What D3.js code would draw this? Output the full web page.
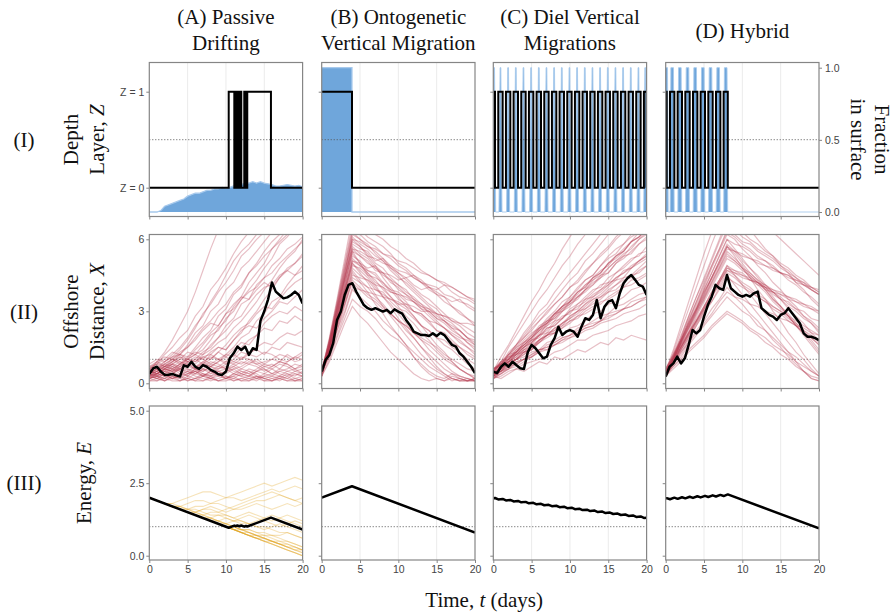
<!DOCTYPE html>
<html>
<head>
<meta charset="utf-8">
<script src="https://cdn.jsdelivr.net/npm/d3@7"></script>
<style>
  body { margin: 0; background: #fff; }
  svg { display: block; }
</style>
</head>
<body>
<svg id="fig" width="895" height="616"></svg>
<script>
// ---------- data ----------
const strategies = ["(A) Passive|Drifting", "(B) Ontogenetic|Vertical Migration", "(C) Diel Vertical|Migrations", "(D) Hybrid"];
const rowLabels = ["(I)", "(II)", "(III)"];
const timeTicks = [0, 5, 10, 15, 20];
const zTicks = [0, 1];
const fracTicks = [0, 0.5, 1];
const xTicks = [0, 3, 6];
const eTicks = [0, 2.5, 5];

const dayGrid = [0,1,2,3,4,5,6,7,8,9,10,11,12,13,14,15,16,17,18,19,20];
const halfDayGrid = [0,0.5,1,1.5,2,2.5,3,3.5,4,4.5,5,5.5,6,6.5,7,7.5,8,8.5,9,9.5,10,10.5,11,11.5,12,12.5,13,13.5,14,14.5,15,15.5,16,16.5,17,17.5,18,18.5,19,19.5,20];

// Row I: depth layer of the focal larva (step series) and fraction of larvae in the surface layer
const zTimesA = [0, 10.36, 11.09, 11.27, 11.48, 11.74, 12.0, 12.39, 12.61, 12.78, 15.87, 20];
const zValsA  = [0, 1, 0, 1, 0, 1, 0, 1, 0, 1, 0, 0];
const zTimesB = [0, 3.95, 20];
const zValsB  = [1, 0, 0];
// diel migration: times of each descent to depth and each ascent to the surface
const dvmDownC = [0.22,1.22,2.22,3.22,4.22,5.22,6.22,7.22,8.22,9.22,10.22,11.22,12.22,13.22,14.22,15.22,16.22,17.22,18.22,19.22];
const dvmUpC   = [0.65,1.65,2.65,3.65,4.65,5.65,6.65,7.65,8.65,9.65,10.65,11.65,12.65,13.65,14.65,15.65,16.65,17.65,18.65,19.65];
const dvmDownD = [0.13,1.13,2.13,3.13,4.13,5.13,6.13,7.13,8.1];
const dvmUpD   = [0.56,1.56,2.56,3.56,4.56,5.56,6.56,7.56];

const fracA = [0,0,0,0.01,0.04,0.05,0.06,0.07,0.08,0.09,0.11,0.12,0.13,0.13,0.14,0.15,0.15,0.16,0.16,0.17,0.165,
               0.17,0.18,0.175,0.19,0.2,0.2,0.21,0.2,0.21,0.2,0.195,0.19,0.18,0.18,0.185,0.19,0.185,0.18,0.185,0.175];
const fracTimesB = [0, 3.95, 20];
const fracB = [1, 0, 0];

// Row II: offshore distance of the focal larva (black) and of the ensemble (faint)
const xFocal = [
  [0.39,0.62,0.69,0.49,0.35,0.36,0.39,0.33,0.28,0.75,0.69,0.9,0.69,0.6,0.76,0.69,0.56,0.49,0.38,0.35,0.49,1.04,1.25,1.53,1.39,1.53,1.18,1.46,1.39,2.6,3.0,3.5,4.2,3.82,3.68,3.54,3.58,3.68,3.82,3.68,3.33],
  [0.49,0.97,1.18,1.67,2.64,2.99,3.68,4.1,4.17,3.82,3.54,3.26,3.13,3.06,3.13,3.06,2.99,3.06,2.92,3.08,2.99,2.9,2.64,2.43,2.15,2.08,2.01,2.01,1.97,2.08,1.97,2.1,2.01,1.8,1.6,1.53,1.25,1.11,0.9,0.69,0.42],
  [0.49,0.42,0.69,0.83,0.69,0.9,0.76,0.63,0.6,1.3,1.6,1.46,1.25,1.04,1.11,1.6,1.88,2.36,2.01,2.15,2.22,2.15,1.94,2.36,2.71,2.64,2.85,3.47,2.71,3.19,3.4,3.47,3.13,3.75,4.17,4.38,4.51,4.31,4.1,4.03,3.68],
  [0.28,0.69,0.83,1.11,0.83,1.04,1.6,2.22,2.08,2.22,2.78,3.26,3.61,4.1,3.96,3.89,4.51,3.96,3.82,3.68,3.61,3.68,3.61,3.75,3.82,3.13,2.99,2.85,2.78,2.64,2.85,2.92,3.13,2.92,2.71,2.5,2.08,1.94,1.94,1.88,1.8]
];

const ensembleA = [
  [0.5,0.9,1.3,1.8,2.4,3.0,3.8,4.7,5.6,6.4,7.0,7.4,7.8,8.1,8.3,8.6,8.8,9.0,9.2,9.4,9.6],
  [0.6,0.8,1.2,1.5,1.9,2.2,2.8,3.2,3.9,4.3,4.8,5.4,5.9,6.3,6.8,7.0,7.2,7.4,7.6,7.8,8.0],
  [0.3,0.5,0.8,1.0,1.3,1.5,1.9,2.3,2.6,3.0,3.3,3.8,4.1,4.6,4.9,5.3,5.6,5.9,6.2,6.4,6.6],
  [0.5,0.4,0.7,0.9,1.1,1.0,1.4,1.7,2.1,2.4,2.9,3.1,3.5,3.8,4.0,4.4,4.6,5.0,5.3,5.6,5.9],
  [0.2,0.4,0.3,0.6,0.8,0.7,1.0,1.3,1.5,1.9,2.2,2.6,2.8,3.3,3.7,4.0,4.1,4.5,4.7,5.0,5.3],
  [0.4,0.3,0.5,0.4,0.7,0.9,0.8,1.1,1.0,1.3,1.6,2.0,2.3,2.5,2.9,3.2,3.1,3.5,3.9,4.2,4.4],
  [0.6,0.5,0.7,0.8,0.6,0.9,1.0,0.8,1.2,1.5,1.4,1.8,2.2,2.4,2.3,2.7,3.0,3.4,3.3,3.6,3.9],
  [0.3,0.2,0.4,0.6,0.5,0.3,0.6,0.9,0.7,0.9,1.2,1.1,1.5,1.8,2.0,2.5,2.8,3.0,2.9,3.2,3.0],
  [0.5,0.7,0.6,0.9,1.1,0.9,0.7,0.8,1.0,1.3,1.1,1.4,1.7,1.6,2.0,2.3,2.2,2.6,2.5,2.8,2.6],
  [0.2,0.3,0.1,0.3,0.2,0.4,0.6,0.5,0.7,0.6,0.8,1.0,1.3,1.2,1.5,1.7,1.6,1.9,2.1,2.0,2.2],
  [0.4,0.6,0.8,0.7,0.5,0.6,0.4,0.6,0.8,1.0,0.9,1.2,1.0,1.3,1.4,1.2,1.5,1.4,1.7,1.6,1.5],
  [0.3,0.2,0.4,0.3,0.1,0.2,0.4,0.3,0.5,0.3,0.2,0.4,0.3,0.5,0.4,0.2,0.3,0.5,0.4,0.2,0.3],
  [0.5,0.6,0.4,0.7,0.9,0.8,0.6,0.5,0.7,0.9,1.1,0.9,0.8,1.0,0.9,0.7,0.8,0.6,0.9,1.1,1.0],
  [0.2,0.1,0.3,0.2,0.4,0.5,0.3,0.2,0.1,0.2,0.3,0.1,0.2,0.1,0.3,0.2,0.1,0.2,0.1,0.2,0.1],
  [0.6,0.9,1.1,1.0,0.8,1.0,1.2,1.0,0.8,0.7,0.9,0.8,0.6,0.8,0.7,0.5,0.7,0.9,0.8,0.6,0.7],
  [0.4,0.3,0.2,0.4,0.3,0.5,0.7,0.6,0.4,0.5,0.3,0.2,0.4,0.6,0.5,0.7,0.6,0.4,0.3,0.5,0.4],
  [0.1,0.2,0.1,0.3,0.2,0.1,0.2,0.1,0.3,0.4,0.2,0.3,0.1,0.2,0.1,0.3,0.2,0.1,0.3,0.1,0.2],
  [0.5,0.4,0.6,0.5,0.3,0.4,0.5,0.7,0.9,0.8,0.6,0.7,0.5,0.4,0.6,0.8,1.0,0.9,1.2,1.0,1.2],
  [0.3,0.5,0.4,0.2,0.3,0.2,0.1,0.3,0.2,0.4,0.5,0.6,0.4,0.3,0.2,0.4,0.3,0.2,0.4,0.3,0.5],
  [0.6,0.4,0.5,0.7,0.6,0.8,0.6,0.4,0.3,0.5,0.4,0.6,0.7,0.9,0.8,0.6,0.4,0.5,0.6,0.8,0.7],
  [0.2,0.4,0.6,0.5,0.7,0.6,0.5,0.3,0.5,0.4,0.2,0.1,0.2,0.3,0.5,0.4,0.6,0.8,0.7,0.5,0.6],
  [0.4,0.2,0.1,0.2,0.1,0.3,0.2,0.4,0.3,0.1,0.2,0.4,0.6,0.5,0.3,0.2,0.1,0.3,0.2,0.1,0.2],
  [0.7,0.9,0.7,0.6,0.8,1.1,1.3,1.2,1.4,1.7,1.9,2.3,2.6,3.0,3.4,3.9,4.3,4.8,5.2,5.5,6.0],
  [0.5,0.7,0.9,1.2,1.5,1.9,2.4,2.8,3.4,3.9,4.5,5.1,5.5,5.8,6.2,6.5,6.8,7.0,7.2,7.4,7.6],
  [0.3,0.4,0.6,0.8,0.7,1.0,1.2,1.4,1.8,2.3,2.6,3.2,3.6,4.2,4.6,5.0,5.6,6.0,6.4,6.8,7.1],
  [0.4,0.6,0.5,0.8,1.0,1.3,1.2,1.6,2.0,2.2,2.7,3.0,3.5,3.9,4.3,4.8,5.2,5.8,6.1,6.5,6.8],
  [0.4,0.5,0.7,0.9,1.2,1.6,2.1,2.4,3.0,3.3,3.9,4.2,4.8,5.1,5.5,5.9,6.3,6.6,6.9,7.1,7.4],
  [0.6,0.8,0.7,1.0,1.2,1.1,1.5,1.9,2.2,2.8,3.1,3.7,4.0,4.6,5.0,5.5,5.9,6.2,6.5,6.7,6.9],
  [0.3,0.4,0.6,0.5,0.8,1.0,0.9,1.2,1.6,1.9,2.4,2.7,3.3,3.5,4.1,4.4,4.9,5.2,5.6,5.8,6.1],
  [0.5,0.4,0.6,0.8,1.0,0.9,1.1,1.0,1.3,1.5,1.4,1.8,2.1,2.6,3.0,3.5,3.9,4.4,4.8,5.0,5.4],
  [0.2,0.3,0.5,0.4,0.6,0.8,0.7,0.9,1.1,1.0,1.2,1.5,1.9,2.1,2.6,2.9,3.4,3.6,4.1,4.5,4.7],
  [0.7,0.8,1.0,1.3,1.2,1.5,1.8,2.2,2.5,2.4,2.9,3.3,3.6,3.5,3.9,4.2,4.0,4.4,4.7,4.5,4.9],
  [0.4,0.6,0.9,1.1,1.4,1.8,2.3,2.9,3.3,3.8,4.2,4.7,5.3,5.6,6.0,6.3,6.7,7.0,7.3,7.5,7.8],
  [0.8,1.0,0.9,1.1,1.2,1.0,0.9,1.1,1.2,1.0,0.8,0.9,1.1,1.0,0.8,0.9,1.0,1.2,1.1,0.9,1.0],
  [0.1,0.1,0.2,0.1,0.1,0.2,0.1,0.1,0.2,0.1,0.1,0.2,0.1,0.1,0.2,0.1,0.1,0.2,0.1,0.1,0.1],
  [0.3,0.4,0.3,0.5,0.6,0.4,0.5,0.3,0.4,0.6,0.7,0.5,0.4,0.3,0.5,0.6,0.4,0.3,0.5,0.6,0.4],
  [0.5,0.3,0.4,0.2,0.3,0.1,0.2,0.3,0.2,0.1,0.2,0.3,0.5,0.4,0.2,0.3,0.4,0.6,0.5,0.4,0.3],
  [0.7,0.6,0.8,1.0,0.9,0.7,0.6,0.8,0.7,0.5,0.6,0.8,1.0,1.2,1.1,1.3,1.2,1.0,0.9,1.1,1.3],
  [0.2,0.3,0.2,0.4,0.6,0.5,0.4,0.6,0.5,0.7,0.6,0.4,0.3,0.2,0.3,0.1,0.2,0.3,0.2,0.4,0.3],
  [0.4,0.5,0.7,0.6,0.4,0.3,0.5,0.4,0.2,0.3,0.5,0.7,0.9,0.8,1.0,0.8,0.7,0.9,0.8,0.6,0.8]
];
const ensembleB = [
  [0.5,1.4,2.6,3.9,5.1,5.0,4.8,4.9,4.6,4.5,4.3,4.4,4.1,3.9,4.0,3.7,3.6,3.4,3.5,3.2,3.0],
  [0.4,1.6,3.0,4.3,5.8,5.6,5.5,5.1,5.2,4.9,4.6,4.4,4.5,4.2,4.0,3.9,4.1,3.8,3.6,3.5,3.3],
  [0.6,1.2,2.2,3.2,4.3,4.0,3.7,3.5,3.2,2.9,2.6,2.4,2.1,1.8,1.6,1.3,1.0,0.8,0.6,0.4,0.3],
  [0.3,1.5,2.8,4.2,5.4,5.0,4.6,4.3,3.9,3.6,3.2,2.8,2.5,2.1,1.8,1.4,1.1,0.9,0.6,0.4,0.2],
  [0.5,1.7,3.2,4.6,6.2,6.0,5.7,5.5,5.2,4.8,4.6,4.3,4.0,3.7,3.5,3.2,2.9,2.6,2.4,2.1,1.9],
  [0.4,1.3,2.4,3.6,4.8,4.5,4.3,3.9,3.8,3.4,3.1,3.0,2.7,2.4,2.2,1.9,1.8,1.5,1.3,1.0,0.8],
  [0.6,1.5,2.6,3.5,4.6,4.2,3.8,3.3,2.9,2.4,2.0,1.6,1.1,0.7,0.4,0.2,0.1,0.3,0.2,0.1,0.2],
  [0.3,1.0,1.9,2.7,3.5,3.2,3.0,2.7,2.3,2.0,1.8,1.5,1.1,0.8,0.5,0.3,0.2,0.4,0.3,0.2,0.1],
  [0.5,1.8,3.4,5.0,6.6,6.4,6.1,5.9,5.7,5.4,5.0,4.8,4.5,4.3,4.0,3.8,3.6,3.2,3.0,2.7,2.5],
  [0.4,1.4,2.8,3.9,5.2,4.9,4.7,4.5,4.1,3.9,3.5,3.3,3.0,2.8,2.5,2.2,2.0,1.7,1.5,1.2,1.0],
  [0.5,1.1,2.0,2.9,3.9,3.6,3.3,3.0,2.6,2.3,2.0,1.6,1.3,1.0,0.7,0.5,0.3,0.1,0.2,0.1,0.1],
  [0.3,1.6,2.9,4.4,5.6,5.5,5.3,5.2,5.0,4.9,4.7,4.6,4.4,4.2,4.1,4.0,3.7,3.6,3.4,3.3,3.1],
  [0.6,1.3,2.5,3.7,5.0,4.7,4.4,4.0,3.6,3.3,2.9,2.5,2.1,1.8,1.4,1.1,0.8,0.5,0.3,0.2,0.1],
  [0.4,1.2,2.3,3.3,4.4,4.2,4.0,3.9,3.7,3.5,3.4,3.2,3.0,2.9,2.6,2.5,2.3,2.1,1.9,1.8,1.6],
  [0.5,1.9,3.5,5.2,6.9,6.7,6.5,6.2,6.0,5.7,5.5,5.2,5.0,4.7,4.5,4.3,4.2,4.0,3.8,3.6,3.4],
  [0.3,0.9,1.7,2.5,3.2,2.8,2.5,2.1,1.7,1.3,1.0,0.7,0.4,0.2,0.1,0.2,0.1,0.2,0.1,0.1,0.2],
  [0.5,1.5,2.7,3.8,5.0,4.6,4.2,3.7,3.2,2.8,2.4,2.0,1.6,1.2,0.9,0.6,0.4,0.2,0.1,0.2,0.1],
  [0.4,1.6,3.1,4.4,5.9,5.7,5.4,5.0,4.8,4.4,4.1,3.9,3.5,3.3,2.9,2.6,2.3,2.0,1.8,1.5,1.2],
  [0.6,1.4,2.5,3.4,4.5,4.4,4.3,4.1,4.0,3.8,3.7,3.6,3.4,3.2,3.1,2.9,2.8,2.6,2.5,2.3,2.1],
  [0.4,1.7,3.1,4.5,6.0,5.7,5.3,4.9,4.4,4.0,3.6,3.2,2.8,2.4,2.0,1.6,1.3,0.9,0.6,0.4,0.2],
  [0.5,1.3,2.4,3.3,4.2,3.9,3.6,3.4,3.1,2.9,2.6,2.4,2.1,1.9,1.7,1.5,1.2,1.0,0.8,0.6,0.5],
  [0.3,1.5,2.9,4.1,5.5,5.3,5.0,4.8,4.6,4.3,4.1,3.8,3.6,3.3,3.1,2.8,2.6,2.4,2.2,1.9,1.7],
  [0.5,1.8,3.3,4.8,6.3,6.0,5.8,5.4,5.1,4.8,4.5,4.1,3.8,3.5,3.2,2.9,2.6,2.3,2.0,1.7,1.4],
  [0.4,1.2,2.2,3.0,4.0,3.9,3.8,3.7,3.6,3.5,3.3,3.3,3.2,3.0,3.0,2.9,2.8,2.7,2.5,2.5,2.4],
  [0.5,1.6,3.0,4.4,5.7,5.4,5.2,4.8,4.5,4.3,3.9,3.7,3.4,3.1,2.8,2.5,2.3,2.0,1.7,1.5,1.3],
  [0.4,1.5,2.7,4.0,5.3,5.1,4.7,4.6,4.2,3.8,3.7,3.4,3.0,2.9,2.6,2.2,2.1,1.8,1.5,1.3,1.1],
  [0.6,1.7,3.1,4.6,6.1,5.8,5.6,5.3,5.1,4.7,4.4,4.2,3.9,3.6,3.3,3.1,2.7,2.5,2.2,1.9,1.6],
  [0.3,1.4,2.6,3.8,4.9,4.8,4.5,4.4,4.2,3.9,3.8,3.5,3.4,3.1,3.0,2.7,2.6,2.3,2.2,1.9,1.8],
  [0.5,1.5,2.8,4.1,5.5,5.0,4.5,4.1,3.6,3.2,2.7,2.3,1.9,1.5,1.1,0.7,0.4,0.2,0.1,0.1,0.2],
  [0.4,1.8,3.3,4.9,6.4,6.2,5.9,5.7,5.4,5.2,4.9,4.7,4.4,4.2,3.9,3.7,3.4,3.2,2.9,2.7,2.4],
  [0.5,1.3,2.4,3.5,4.7,4.3,4.0,3.6,3.3,2.9,2.6,2.2,1.9,1.5,1.2,0.9,0.6,0.4,0.2,0.1,0.1],
  [0.4,1.6,2.9,4.3,5.6,5.3,5.1,4.7,4.6,4.2,4.0,3.7,3.5,3.2,3.0,2.7,2.5,2.2,2.0,1.7,1.5],
  [0.6,1.4,2.6,3.9,5.1,4.9,4.6,4.2,4.0,3.6,3.3,3.1,2.8,2.4,2.2,1.9,1.6,1.4,1.1,0.8,0.6],
  [0.3,1.7,3.2,4.7,6.0,5.9,5.7,5.6,5.4,5.3,5.1,5.0,4.8,4.6,4.5,4.3,4.1,4.0,3.8,3.6,3.5]
];
const ensembleC = [
  [0.4,0.6,1.0,1.2,1.5,1.8,2.0,2.5,2.7,3.0,3.2,3.6,3.8,4.1,4.4,4.6,5.0,5.2,5.5,5.8,6.0],
  [0.3,0.5,0.8,1.0,1.3,1.4,1.8,2.0,2.3,2.4,2.8,3.0,3.3,3.5,3.7,4.0,4.3,4.4,4.8,5.0,5.2],
  [0.5,0.9,1.2,1.6,1.9,2.3,2.6,3.0,3.3,3.6,4.0,4.2,4.6,5.0,5.3,5.6,6.0,6.3,6.6,7.0,7.2],
  [0.2,0.4,0.6,0.9,1.0,1.2,1.4,1.7,1.8,2.0,2.3,2.4,2.6,2.9,3.0,3.3,3.4,3.6,3.9,4.0,4.2],
  [0.4,0.5,0.7,0.8,1.0,1.1,1.4,1.5,1.6,1.8,2.0,2.1,2.3,2.4,2.6,2.8,2.9,3.1,3.2,3.4,3.6],
  [0.3,0.2,0.4,0.6,0.5,0.7,0.9,0.8,1.1,1.0,1.2,1.4,1.3,1.5,1.7,1.6,1.9,1.8,2.0,1.9,1.8],
  [0.6,0.8,1.2,1.3,1.7,1.9,2.2,2.6,2.7,3.1,3.3,3.6,3.9,4.1,4.5,4.6,5.0,5.3,5.4,5.8,6.1],
  [0.3,0.7,0.9,1.3,1.6,1.8,2.2,2.5,2.9,3.0,3.4,3.8,4.0,4.4,4.6,5.0,5.3,5.6,5.9,6.3,6.5],
  [0.5,0.6,0.9,1.2,1.3,1.6,1.8,2.1,2.2,2.5,2.7,3.0,3.1,3.4,3.6,3.8,4.1,4.3,4.4,4.7,4.9],
  [0.2,0.5,0.6,0.8,1.0,1.1,1.3,1.6,1.7,1.9,2.0,2.3,2.4,2.6,2.8,2.9,3.2,3.3,3.5,3.7,3.8],
  [0.4,0.7,0.9,1.2,1.4,1.7,2.0,2.2,2.6,2.7,3.1,3.3,3.6,3.9,4.0,4.4,4.6,4.9,5.2,5.3,5.7],
  [0.5,0.8,1.3,1.6,2.0,2.4,2.8,3.1,3.5,3.9,4.3,4.6,5.1,5.4,5.8,6.2,6.6,7.0,7.3,7.7,8.0],
  [0.3,0.6,0.8,1.0,1.3,1.5,1.8,2.0,2.2,2.5,2.7,2.9,3.2,3.5,3.6,3.9,4.1,4.4,4.5,4.8,5.1],
  [0.6,0.7,0.8,1.0,1.1,1.3,1.4,1.4,1.6,1.8,1.9,2.0,2.2,2.3,2.5,2.6,2.7,2.9,3.0,3.1,3.3],
  [0.4,0.8,1.0,1.3,1.6,1.9,2.2,2.4,2.8,3.1,3.4,3.6,3.9,4.3,4.5,4.8,5.1,5.4,5.6,6.0,6.3],
  [0.2,0.4,0.7,1.0,1.2,1.5,1.8,2.0,2.3,2.5,2.8,3.0,3.3,3.6,3.8,4.1,4.4,4.6,4.9,5.1,5.4],
  [0.5,0.8,0.9,1.1,1.4,1.5,1.7,2.0,2.1,2.3,2.5,2.8,2.9,3.1,3.4,3.5,3.7,4.0,4.1,4.3,4.5],
  [0.3,0.6,1.0,1.3,1.6,1.9,2.3,2.6,2.9,3.2,3.6,3.9,4.3,4.5,4.9,5.3,5.6,5.8,6.2,6.6,6.8],
  [0.4,0.5,0.7,0.9,1.0,1.2,1.4,1.5,1.7,1.9,2.0,2.2,2.4,2.5,2.6,2.9,3.0,3.1,3.4,3.5,3.6],
  [0.6,0.9,1.1,1.5,1.7,2.0,2.4,2.6,2.9,3.2,3.5,3.8,4.1,4.4,4.6,5.0,5.3,5.5,5.9,6.1,6.4],
  [0.3,0.5,0.8,1.0,1.2,1.4,1.7,2.0,2.1,2.4,2.6,2.8,3.1,3.3,3.5,3.8,3.9,4.2,4.5,4.6,4.9],
  [0.2,0.3,0.5,0.6,0.8,0.9,1.0,1.1,1.3,1.4,1.6,1.8,1.8,2.0,2.1,2.2,2.4,2.5,2.6,2.8,2.9],
  [0.4,0.7,1.1,1.3,1.7,2.0,2.3,2.5,2.9,3.2,3.4,3.8,4.0,4.4,4.7,4.9,5.3,5.5,5.9,6.1,6.4],
  [0.5,0.9,1.0,1.4,1.8,2.1,2.3,2.7,3.0,3.4,3.6,4.0,4.3,4.5,4.9,5.2,5.4,5.8,6.1,6.3,6.7],
  [0.3,0.5,0.9,1.1,1.4,1.6,2.0,2.1,2.5,2.8,2.9,3.3,3.5,3.8,4.1,4.2,4.6,4.8,5.1,5.4,5.5],
  [0.6,0.8,1.0,1.3,1.5,1.8,1.9,2.3,2.4,2.7,3.0,3.1,3.5,3.6,3.9,4.2,4.3,4.7,4.8,5.1,5.3],
  [0.2,0.6,0.8,1.2,1.5,1.7,2.1,2.4,2.6,3.0,3.3,3.5,3.9,4.2,4.4,4.8,5.1,5.3,5.7,6.0,6.2],
  [0.4,0.6,0.9,1.0,1.3,1.4,1.7,1.9,2.1,2.3,2.6,2.7,3.0,3.2,3.3,3.6,3.8,4.0,4.3,4.4,4.6],
  [0.5,0.8,1.2,1.5,1.9,2.2,2.6,2.9,3.3,3.6,4.0,4.3,4.7,5.0,5.4,5.7,6.1,6.4,6.8,7.1,7.5],
  [0.3,0.4,0.6,0.7,0.9,1.1,1.3,1.4,1.6,1.7,1.9,2.1,2.3,2.4,2.6,2.7,2.9,3.1,3.2,3.4,3.5],
  [0.4,0.7,1.0,1.4,1.6,1.9,2.3,2.5,2.8,3.2,3.4,3.7,4.1,4.3,4.6,5.0,5.2,5.5,5.9,6.1,6.4],
  [0.6,0.8,1.1,1.2,1.5,1.7,2.0,2.3,2.4,2.7,3.0,3.2,3.4,3.7,3.9,4.1,4.4,4.6,4.8,5.1,5.3],
  [0.5,1.1,1.6,2.2,2.8,3.4,3.9,4.5,5.0,5.6,6.1,6.6,7.0,7.4,7.8,8.1,8.4,8.7,9.0,9.3,9.6],
  [0.4,0.9,1.5,2.0,2.5,3.0,3.5,3.9,4.4,4.9,5.3,5.8,6.2,6.6,7.0,7.3,7.6,7.9,8.2,8.5,8.8],
  [0.3,0.7,1.2,1.6,2.1,2.5,3.0,3.3,3.8,4.2,4.6,5.0,5.4,5.8,6.2,6.5,6.9,7.2,7.5,7.8,8.1]
];
const ensembleD = [
  [0.4,0.9,1.5,2.1,2.6,3.2,3.8,4.3,4.9,4.7,4.6,4.3,4.2,3.9,3.8,3.5,3.4,3.1,3.0,2.7,2.6],
  [0.3,1.0,1.7,2.5,3.1,3.9,4.6,5.3,6.0,5.8,5.7,5.5,5.2,5.1,4.9,4.6,4.5,4.2,4.1,3.9,3.7],
  [0.5,0.8,1.3,1.7,2.2,2.6,3.1,3.5,4.0,3.6,3.3,2.9,2.6,2.2,1.8,1.5,1.1,0.8,0.5,0.3,0.2],
  [0.4,1.1,1.8,2.6,3.4,4.1,4.9,5.6,6.4,6.2,5.9,5.8,5.5,5.3,5.1,4.8,4.6,4.4,4.1,3.9,3.7],
  [0.3,0.7,1.1,1.6,2.0,2.4,2.8,3.2,3.6,3.3,3.0,2.8,2.4,2.2,1.9,1.6,1.3,1.1,0.8,0.5,0.3],
  [0.5,1.0,1.6,2.3,2.9,3.5,4.2,4.8,5.5,5.2,4.9,4.5,4.2,3.9,3.5,3.2,2.9,2.5,2.2,1.9,1.6],
  [0.4,0.9,1.4,1.9,2.4,3.0,3.4,4.0,4.5,4.1,3.7,3.3,2.9,2.5,2.1,1.7,1.3,0.9,0.5,0.2,0.1],
  [0.6,1.2,1.9,2.7,3.4,4.2,4.9,5.6,6.3,6.1,5.8,5.6,5.3,5.1,4.8,4.6,4.3,4.1,3.8,3.6,3.3],
  [0.3,0.6,0.9,1.3,1.6,1.9,2.3,2.6,2.9,2.7,2.5,2.2,2.0,1.7,1.5,1.2,1.0,0.7,0.5,0.2,0.1],
  [0.4,1.0,1.7,2.3,3.0,3.6,4.3,4.9,5.6,5.5,5.3,5.2,5.0,4.9,4.7,4.6,4.4,4.3,4.1,4.0,3.8],
  [0.5,0.9,1.5,2.0,2.6,3.1,3.6,4.2,4.7,4.5,4.2,4.0,3.7,3.5,3.2,3.0,2.7,2.5,2.2,2.0,1.7],
  [0.3,1.1,1.9,2.8,3.6,4.4,5.2,6.0,6.8,6.5,6.3,6.0,5.8,5.5,5.3,5.0,4.8,4.5,4.3,4.0,3.8],
  [0.4,0.8,1.2,1.7,2.1,2.5,2.9,3.4,3.8,3.6,3.5,3.3,3.2,3.0,2.9,2.7,2.6,2.4,2.3,2.1,2.0],
  [0.5,1.0,1.6,2.1,2.7,3.2,3.8,4.3,4.9,4.5,4.1,3.7,3.3,2.9,2.5,2.1,1.7,1.3,1.0,0.6,0.3],
  [0.4,1.0,1.7,2.4,3.1,3.8,4.4,5.1,5.8,5.5,5.1,4.8,4.5,4.1,3.8,3.5,3.1,2.8,2.5,2.1,1.8],
  [0.3,0.9,1.4,2.0,2.5,3.1,3.6,4.2,4.7,4.6,4.4,4.3,4.1,4.0,3.8,3.7,3.5,3.4,3.2,3.1,2.9],
  [0.6,1.1,1.8,2.4,3.1,3.7,4.4,5.0,5.7,5.4,5.0,4.6,4.3,3.9,3.5,3.2,2.8,2.4,2.1,1.7,1.3],
  [0.4,0.7,1.0,1.4,1.7,2.0,2.4,2.7,3.0,2.8,2.6,2.3,2.1,1.9,1.6,1.4,1.2,0.9,0.7,0.5,0.3],
  [0.5,1.2,2.0,2.8,3.6,4.3,5.1,5.9,6.6,6.4,6.1,5.9,5.6,5.4,5.2,4.9,4.7,4.4,4.2,3.9,3.7],
  [0.3,0.8,1.3,1.8,2.4,2.9,3.4,3.9,4.4,4.2,4.0,3.8,3.6,3.4,3.2,3.0,2.8,2.6,2.4,2.2,2.0],
  [0.4,1.1,1.8,2.5,3.2,3.9,4.6,5.3,6.0,5.6,5.2,4.8,4.4,4.0,3.6,3.2,2.8,2.4,2.0,1.6,1.2],
  [0.5,1.0,1.5,2.1,2.6,3.1,3.7,4.2,4.8,4.6,4.5,4.3,4.2,4.0,3.9,3.7,3.6,3.4,3.3,3.1,3.0],
  [0.4,1.0,1.6,2.2,2.9,3.5,4.1,4.7,5.3,5.1,4.8,4.6,4.3,4.1,3.8,3.6,3.3,3.1,2.8,2.6,2.3],
  [0.5,1.1,1.8,2.6,3.3,4.0,4.8,5.5,6.2,6.0,5.6,5.3,4.9,4.6,4.2,3.9,3.5,3.2,2.8,2.5,2.1],
  [0.3,0.8,1.4,1.9,2.5,3.0,3.6,4.1,4.6,4.4,4.1,3.9,3.6,3.4,3.1,2.9,2.6,2.4,2.1,1.9,1.6],
  [0.4,1.0,1.7,2.4,3.0,3.7,4.4,5.0,5.7,5.5,5.4,5.2,5.1,4.9,4.8,4.6,4.5,4.3,4.2,4.0,3.9],
  [0.6,1.2,1.8,2.5,3.1,3.8,4.4,5.1,5.7,5.3,4.8,4.4,3.9,3.5,3.0,2.6,2.1,1.7,1.2,0.8,0.4],
  [0.3,0.9,1.5,2.1,2.8,3.4,4.0,4.6,5.2,5.0,4.7,4.5,4.2,4.0,3.7,3.5,3.2,3.0,2.7,2.5,2.2],
  [0.5,1.1,1.7,2.3,3.0,3.6,4.2,4.8,5.4,5.1,4.8,4.4,4.1,3.8,3.4,3.1,2.8,2.4,2.1,1.8,1.4],
  [0.4,0.9,1.5,2.0,2.6,3.2,3.7,4.3,4.8,4.7,4.5,4.4,4.2,4.1,3.9,3.8,3.6,3.5,3.3,3.2,3.0],
  [0.5,1.4,2.4,3.4,4.4,5.4,6.3,7.2,8.0,7.8,7.5,7.2,6.9,6.6,6.3,6.0,5.7,5.4,5.1,4.8,4.5],
  [0.4,1.3,2.2,3.1,4.0,4.9,5.8,6.6,7.4,7.1,6.7,6.4,6.0,5.6,5.3,4.9,4.6,4.2,3.9,3.5,3.2]
];

// Row III: energy reserves of the focal larva (black) and the passive ensemble (faint)
const eTimesA = [0, 10.36, 11.09, 11.27, 11.48, 11.74, 12.0, 12.39, 12.61, 12.78, 15.87, 20];
const eValsA  = [2.0, 0.964, 1.037, 1.019, 1.04, 1.014, 1.04, 1.001, 1.023, 1.006, 1.315, 0.902];
const eTimesB = [0, 3.95, 20];
const eValsB  = [2.0, 2.395, 0.8];
const eTimesC = [0, 0.22,0.65, 1.22,1.65, 2.22,2.65, 3.22,3.65, 4.22,4.65, 5.22,5.65, 6.22,6.65, 7.22,7.65, 8.22,8.65, 9.22,9.65,
                 10.22,10.65, 11.22,11.65, 12.22,12.65, 13.22,13.65, 14.22,14.65, 15.22,15.65, 16.22,16.65, 17.22,17.65, 18.22,18.65, 19.22,19.65, 20];
const eValsC  = [1.985, 1.99,1.94, 1.957,1.907, 1.923,1.873, 1.89,1.84, 1.856,1.806, 1.823,1.773, 1.789,1.739, 1.756,1.706, 1.722,1.672, 1.689,1.639,
                 1.655,1.605, 1.622,1.572, 1.588,1.538, 1.555,1.505, 1.521,1.471, 1.488,1.438, 1.454,1.404, 1.421,1.371, 1.387,1.337, 1.354,1.304, 1.31];
const eTimesD = [0, 0.13,0.56, 1.13,1.56, 2.13,2.56, 3.13,3.56, 4.13,4.56, 5.13,5.56, 6.13,6.56, 7.13,7.56, 8.1, 20];
const eValsD  = [1.98, 1.985,1.945, 2.001,1.961, 2.017,1.977, 2.033,1.993, 2.049,2.009, 2.065,2.025, 2.081,2.041, 2.097,2.057, 2.113, 0.94];

const energyEnsembleA = [
  [2.0,1.9,1.8,1.8,1.9,2.0,2.1,2.2,2.2,2.1,2.0,2.1,2.2,2.3,2.4,2.5,2.4,2.5,2.6,2.7,2.6],
  [2.0,1.9,1.8,1.7,1.7,1.8,1.9,1.9,1.8,1.9,2.0,2.0,1.9,2.0,2.1,2.2,2.3,2.2,2.3,2.4,2.3],
  [2.0,1.9,1.8,1.7,1.6,1.6,1.7,1.7,1.8,1.8,1.7,1.6,1.7,1.8,1.9,1.9,2.0,2.1,2.0,1.9,2.0],
  [2.0,1.9,1.8,1.7,1.6,1.5,1.5,1.6,1.7,1.6,1.5,1.6,1.6,1.7,1.8,1.7,1.6,1.7,1.8,1.7,1.8],
  [2.0,1.9,1.8,1.7,1.6,1.5,1.4,1.4,1.5,1.5,1.6,1.7,1.8,1.9,2.0,2.1,2.2,2.1,2.0,1.9,1.8],
  [2.0,1.9,1.8,1.7,1.6,1.5,1.4,1.3,1.3,1.4,1.4,1.3,1.4,1.5,1.4,1.3,1.2,1.3,1.4,1.3,1.2],
  [2.0,1.9,1.8,1.7,1.6,1.5,1.4,1.3,1.2,1.2,1.3,1.2,1.2,1.1,1.2,1.3,1.4,1.3,1.2,1.1,1.0],
  [2.0,1.9,1.8,1.7,1.6,1.5,1.4,1.3,1.2,1.1,1.1,1.2,1.3,1.4,1.3,1.2,1.1,1.0,1.1,1.2,1.1],
  [2.0,1.9,1.8,1.7,1.6,1.5,1.4,1.3,1.2,1.1,1.0,1.0,0.9,0.9,0.8,0.8,0.7,0.7,0.8,0.7,0.6],
  [2.0,1.9,1.8,1.7,1.6,1.5,1.4,1.3,1.2,1.1,1.0,0.9,0.9,0.8,0.7,0.7,0.6,0.5,0.5,0.4,0.3],
  [2.0,1.9,1.8,1.7,1.6,1.5,1.4,1.3,1.2,1.1,1.0,0.9,0.8,0.8,0.7,0.6,0.5,0.4,0.3,0.2,0.1],
  [2.0,1.9,1.8,1.7,1.6,1.5,1.4,1.3,1.2,1.1,1.0,0.9,0.8,0.7,0.6,0.5,0.4,0.3,0.2,0.1,0.0],
  [2.0,1.9,1.8,1.7,1.6,1.5,1.4,1.3,1.2,1.1,1.0,0.9,0.8,0.7,0.6,0.6,0.5,0.5,0.4,0.3,0.2],
  [2.0,1.9,1.8,1.8,1.7,1.6,1.5,1.4,1.3,1.2,1.1,1.0,0.9,0.9,0.8,0.7,0.7,0.6,0.5,0.4,0.3],
  [2.0,1.9,1.8,1.7,1.7,1.6,1.6,1.5,1.4,1.4,1.3,1.2,1.1,1.1,1.0,1.0,0.9,0.8,0.8,0.7,0.6],
  [2.0,1.9,1.8,1.7,1.6,1.5,1.5,1.6,1.6,1.5,1.4,1.3,1.2,1.1,1.0,0.9,1.0,1.1,1.0,0.9,0.8],
  [2.0,1.9,1.8,1.7,1.6,1.5,1.4,1.3,1.2,1.1,1.0,0.9,0.8,0.7,0.6,0.5,0.5,0.4,0.3,0.2,0.1],
  [2.0,1.9,1.8,1.7,1.6,1.5,1.4,1.3,1.2,1.1,1.0,0.9,0.8,0.7,0.7,0.6,0.5,0.4,0.4,0.3,0.2],
  [2.0,1.9,1.8,1.7,1.6,1.5,1.4,1.3,1.2,1.1,1.0,0.9,0.8,0.7,0.6,0.5,0.4,0.3,0.2,0.1,0.0],
  [2.0,1.9,1.8,1.7,1.6,1.5,1.4,1.3,1.2,1.1,1.0,0.9,0.8,0.7,0.6,0.5,0.4,0.3,0.2,0.1,0.0],
  [2.0,1.9,1.8,1.7,1.6,1.6,1.5,1.4,1.3,1.2,1.1,1.0,0.9,0.8,0.7,0.6,0.5,0.4,0.3,0.2,0.2],
  [2.0,1.9,1.8,1.7,1.6,1.5,1.4,1.3,1.3,1.2,1.1,1.0,0.9,0.8,0.7,0.6,0.5,0.4,0.3,0.3,0.2]
];

const thresholds = [0.5, 1, 1]; // dotted reference level per row

// ---------- layout ----------
const svg = d3.select("#fig");
const panelLeft = [149.3, 321.7, 493.3, 665.7];
const panelW = 153.3;
const rowTop = [62.5, 234.5, 406];
const panelH = 154;

const x = d3.scaleLinear().domain([0, 20]).range([0, panelW]);
const yZ = d3.scaleLinear().domain([0, 1]).range([125.2, 29.2]);
const yF = d3.scaleLinear().domain([0, 1]).range([149.5, 5.2]);
const yX = d3.scaleLinear().domain([0, 6]).range([148.8, 4.8]);
const yE = d3.scaleLinear().domain([0, 5]).range([149.7, 4.7]);
const rowScale = [yZ, yX, yE];

const SANS = "'Liberation Sans', Arial, Helvetica, sans-serif";
const SERIF = "'Liberation Serif', 'Times New Roman', Times, serif";
const FRAME = "#858585";
const BLUE_FILL = "#6fa6db";
const BLUE_LINE = "#a7c9ec";
const RED = "#b3394f";
const GOLD = "#e0a11a";

function zip(ts, vs) { return ts.map((t, i) => ({ t, v: vs[i] })); }

// surface periods (Z = 1) of a migrating larva: starts at the surface, then alternates
function surfacePeriods(downs, ups) {
  const periods = [[0, downs[0]]];
  ups.forEach((u, i) => periods.push([u, i + 1 < downs.length ? downs[i + 1] : 20]));
  return periods;
}
// step series of the depth layer
function dvmSteps(downs, ups) {
  const pts = [];
  surfacePeriods(downs, ups).forEach(([a, b]) => { pts.push({ t: a, v: 1 }, { t: b, v: 0 }); });
  pts.push({ t: 20, v: pts[pts.length - 1].v });
  return pts;
}
// fraction of the ensemble at the surface: one pulse per surface period
function dvmPulses(downs, ups, halfBase, halfTop) {
  const pts = [{ t: 0, v: 0 }];
  surfacePeriods(downs, ups).forEach(([a, b]) => {
    const m = (a + b) / 2;
    pts.push({ t: m - halfBase, v: 0 }, { t: m - halfTop, v: 1 }, { t: m + halfTop, v: 1 }, { t: m + halfBase, v: 0 });
  });
  pts.push({ t: 20.5, v: 0 });
  return pts;
}

const defs = svg.append("defs");
const panels = [];
for (let r = 0; r < 3; r++) {
  panels.push([]);
  for (let c = 0; c < 4; c++) {
    const id = `clip-${r}-${c}`;
    defs.append("clipPath").attr("id", id).append("rect").attr("width", panelW).attr("height", panelH);
    const g = svg.append("g").attr("transform", `translate(${panelLeft[c]},${rowTop[r]})`);
    const inner = g.append("g").attr("clip-path", `url(#${id})`);
    inner.selectAll("line.grid").data([5, 10, 15]).join("line")
      .attr("class", "grid")
      .attr("x1", d => x(d)).attr("x2", d => x(d))
      .attr("y1", 0).attr("y2", panelH)
      .attr("stroke", "#ebebeb").attr("stroke-width", 1);
    panels[r].push({ g, inner });
  }
}

const lineXY = (ys) => d3.line().x(d => x(d.t)).y(d => ys(d.v));

// ----- Row I -----
const fracSeries = [
  zip(halfDayGrid, fracA),
  zip(fracTimesB, fracB),
  dvmPulses(dvmDownC, dvmUpC, 0.2, 0.05),
  dvmPulses(dvmDownD, dvmUpD, 0.26, 0.17)
];
const zSeries = [
  zip(zTimesA, zValsA),
  zip(zTimesB, zValsB),
  dvmSteps(dvmDownC, dvmUpC),
  dvmSteps(dvmDownD, dvmUpD)
];
fracSeries.forEach((s, c) => {
  const inner = panels[0][c].inner;
  const curve = c === 1 ? d3.curveStepAfter : d3.curveLinear;
  inner.append("path").datum(s)
    .attr("d", d3.area().curve(curve).x(d => x(d.t)).y0(yF(0)).y1(d => yF(d.v)))
    .attr("fill", BLUE_FILL);
  inner.append("path").datum(s)
    .attr("d", lineXY(yF).curve(curve))
    .attr("fill", "none").attr("stroke", BLUE_LINE).attr("stroke-width", c >= 2 ? 0.9 : 1.3);
});

// dotted reference levels
for (let r = 0; r < 3; r++) {
  for (let c = 0; c < 4; c++) {
    panels[r][c].inner.append("line")
      .attr("x1", 0).attr("x2", panelW)
      .attr("y1", rowScale[r](thresholds[r])).attr("y2", rowScale[r](thresholds[r]))
      .attr("stroke", "#555").attr("stroke-width", 1).attr("stroke-dasharray", "1,2");
  }
}

zSeries.forEach((s, c) => {
  panels[0][c].inner.append("path").datum(s)
    .attr("d", lineXY(yZ).curve(d3.curveStepAfter))
    .attr("fill", "none").attr("stroke", "#000").attr("stroke-width", 2);
});

// ----- Row II -----
const ensembles = [ensembleA, ensembleB, ensembleC, ensembleD];
ensembles.forEach((set, c) => {
  const inner = panels[1][c].inner;
  inner.selectAll("path.ens").data(set).join("path")
    .attr("class", "ens")
    .attr("d", vals => lineXY(yX)(zip(dayGrid, vals)))
    .attr("fill", "none").attr("stroke", RED).attr("stroke-opacity", 0.32).attr("stroke-width", 1.2);
  inner.append("path").datum(zip(halfDayGrid, xFocal[c]))
    .attr("d", lineXY(yX))
    .attr("fill", "none").attr("stroke", "#000").attr("stroke-width", 2.5).attr("stroke-linejoin", "round");
});

// ----- Row III -----
panels[2][0].inner.selectAll("path.ens").data(energyEnsembleA).join("path")
  .attr("class", "ens")
  .attr("d", vals => lineXY(yE)(zip(dayGrid, vals)))
  .attr("fill", "none").attr("stroke", GOLD).attr("stroke-opacity", 0.3).attr("stroke-width", 1.1);
const eSeries = [zip(eTimesA, eValsA), zip(eTimesB, eValsB), zip(eTimesC, eValsC), zip(eTimesD, eValsD)];
eSeries.forEach((s, c) => {
  panels[2][c].inner.append("path").datum(s)
    .attr("d", lineXY(yE))
    .attr("fill", "none").attr("stroke", "#000").attr("stroke-width", 2.5).attr("stroke-linejoin", "round");
});

// ----- frames and axes -----
function styleAxis(a) {
  a.attr("font-family", SANS).attr("font-size", 10.5);
  a.select(".domain").remove();
  a.selectAll(".tick line").attr("stroke", FRAME).attr("stroke-width", 1);
  a.selectAll(".tick text").attr("fill", "#444");
}
const leftTicks = [zTicks, xTicks, eTicks];
const leftFormats = [d => `Z = ${d}`, d3.format("d"), d3.format(".1f")];
for (let r = 0; r < 3; r++) {
  for (let c = 0; c < 4; c++) {
    const g = panels[r][c].g;
    g.append("g").call(d3.axisLeft(rowScale[r]).tickValues(leftTicks[r]).tickSize(3).tickPadding(2)
      .tickFormat(c === 0 ? leftFormats[r] : () => "")).call(styleAxis);
    g.append("g").attr("transform", `translate(0,${panelH})`)
      .call(d3.axisBottom(x).tickValues(timeTicks).tickSize(3).tickPadding(3)
        .tickFormat(r === 2 ? d3.format("d") : () => "")).call(styleAxis);
    if (r === 0 && c === 3) {
      g.append("g").attr("transform", `translate(${panelW},0)`)
        .call(d3.axisRight(yF).tickValues(fracTicks).tickSize(3).tickPadding(3).tickFormat(d3.format(".1f")))
        .call(styleAxis);
    }
    g.append("rect").attr("width", panelW).attr("height", panelH)
      .attr("fill", "none").attr("stroke", FRAME).attr("stroke-width", 1.2);
  }
}

// ----- titles -----
const colCenters = panelLeft.map(l => l + panelW / 2);
strategies.forEach((s, c) => {
  const lines = s.split("|");
  const t = svg.append("text").attr("font-family", SERIF).attr("font-size", 21)
    .attr("text-anchor", "middle").attr("fill", "#111");
  if (lines.length === 1) {
    t.append("tspan").attr("x", colCenters[c]).attr("y", 38).text(lines[0]);
  } else {
    t.append("tspan").attr("x", colCenters[c]).attr("y", 24).text(lines[0]);
    t.append("tspan").attr("x", colCenters[c]).attr("y", 50).text(lines[1]);
  }
});

const rowCenters = rowTop.map(t => t + panelH / 2);
rowLabels.forEach((lab, r) => {
  svg.append("text").attr("x", 24).attr("y", rowCenters[r] + 7)
    .attr("font-family", SERIF).attr("font-size", 21).attr("text-anchor", "middle").attr("fill", "#111")
    .text(lab);
});

function rotatedTitle(xb, yc, angle, parts) {
  const t = svg.append("text")
    .attr("transform", `translate(${xb},${yc}) rotate(${angle})`)
    .attr("font-family", SERIF).attr("font-size", 21).attr("text-anchor", "middle").attr("fill", "#111");
  parts.forEach(p => t.append("tspan").attr("font-style", p[1] ? "italic" : null).text(p[0]));
}
rotatedTitle(78, rowCenters[0], -90, [["Depth"]]);
rotatedTitle(104, rowCenters[0], -90, [["Layer, "], ["Z", true]]);
rotatedTitle(78, rowCenters[1], -90, [["Offshore"]]);
rotatedTitle(104, rowCenters[1], -90, [["Distance, "], ["X", true]]);
rotatedTitle(91, rowCenters[2], -90, [["Energy, "], ["E", true]]);
rotatedTitle(875, rowCenters[0], 90, [["Fraction"]]);
rotatedTitle(851, rowCenters[0], 90, [["in surface"]]);

const xt = svg.append("text").attr("x", (panelLeft[0] + panelLeft[3] + panelW) / 2).attr("y", 607)
  .attr("font-family", SERIF).attr("font-size", 21).attr("text-anchor", "middle").attr("fill", "#111");
xt.append("tspan").text("Time, ");
xt.append("tspan").attr("font-style", "italic").text("t");
xt.append("tspan").text(" (days)");
</script>
</body>
</html>
